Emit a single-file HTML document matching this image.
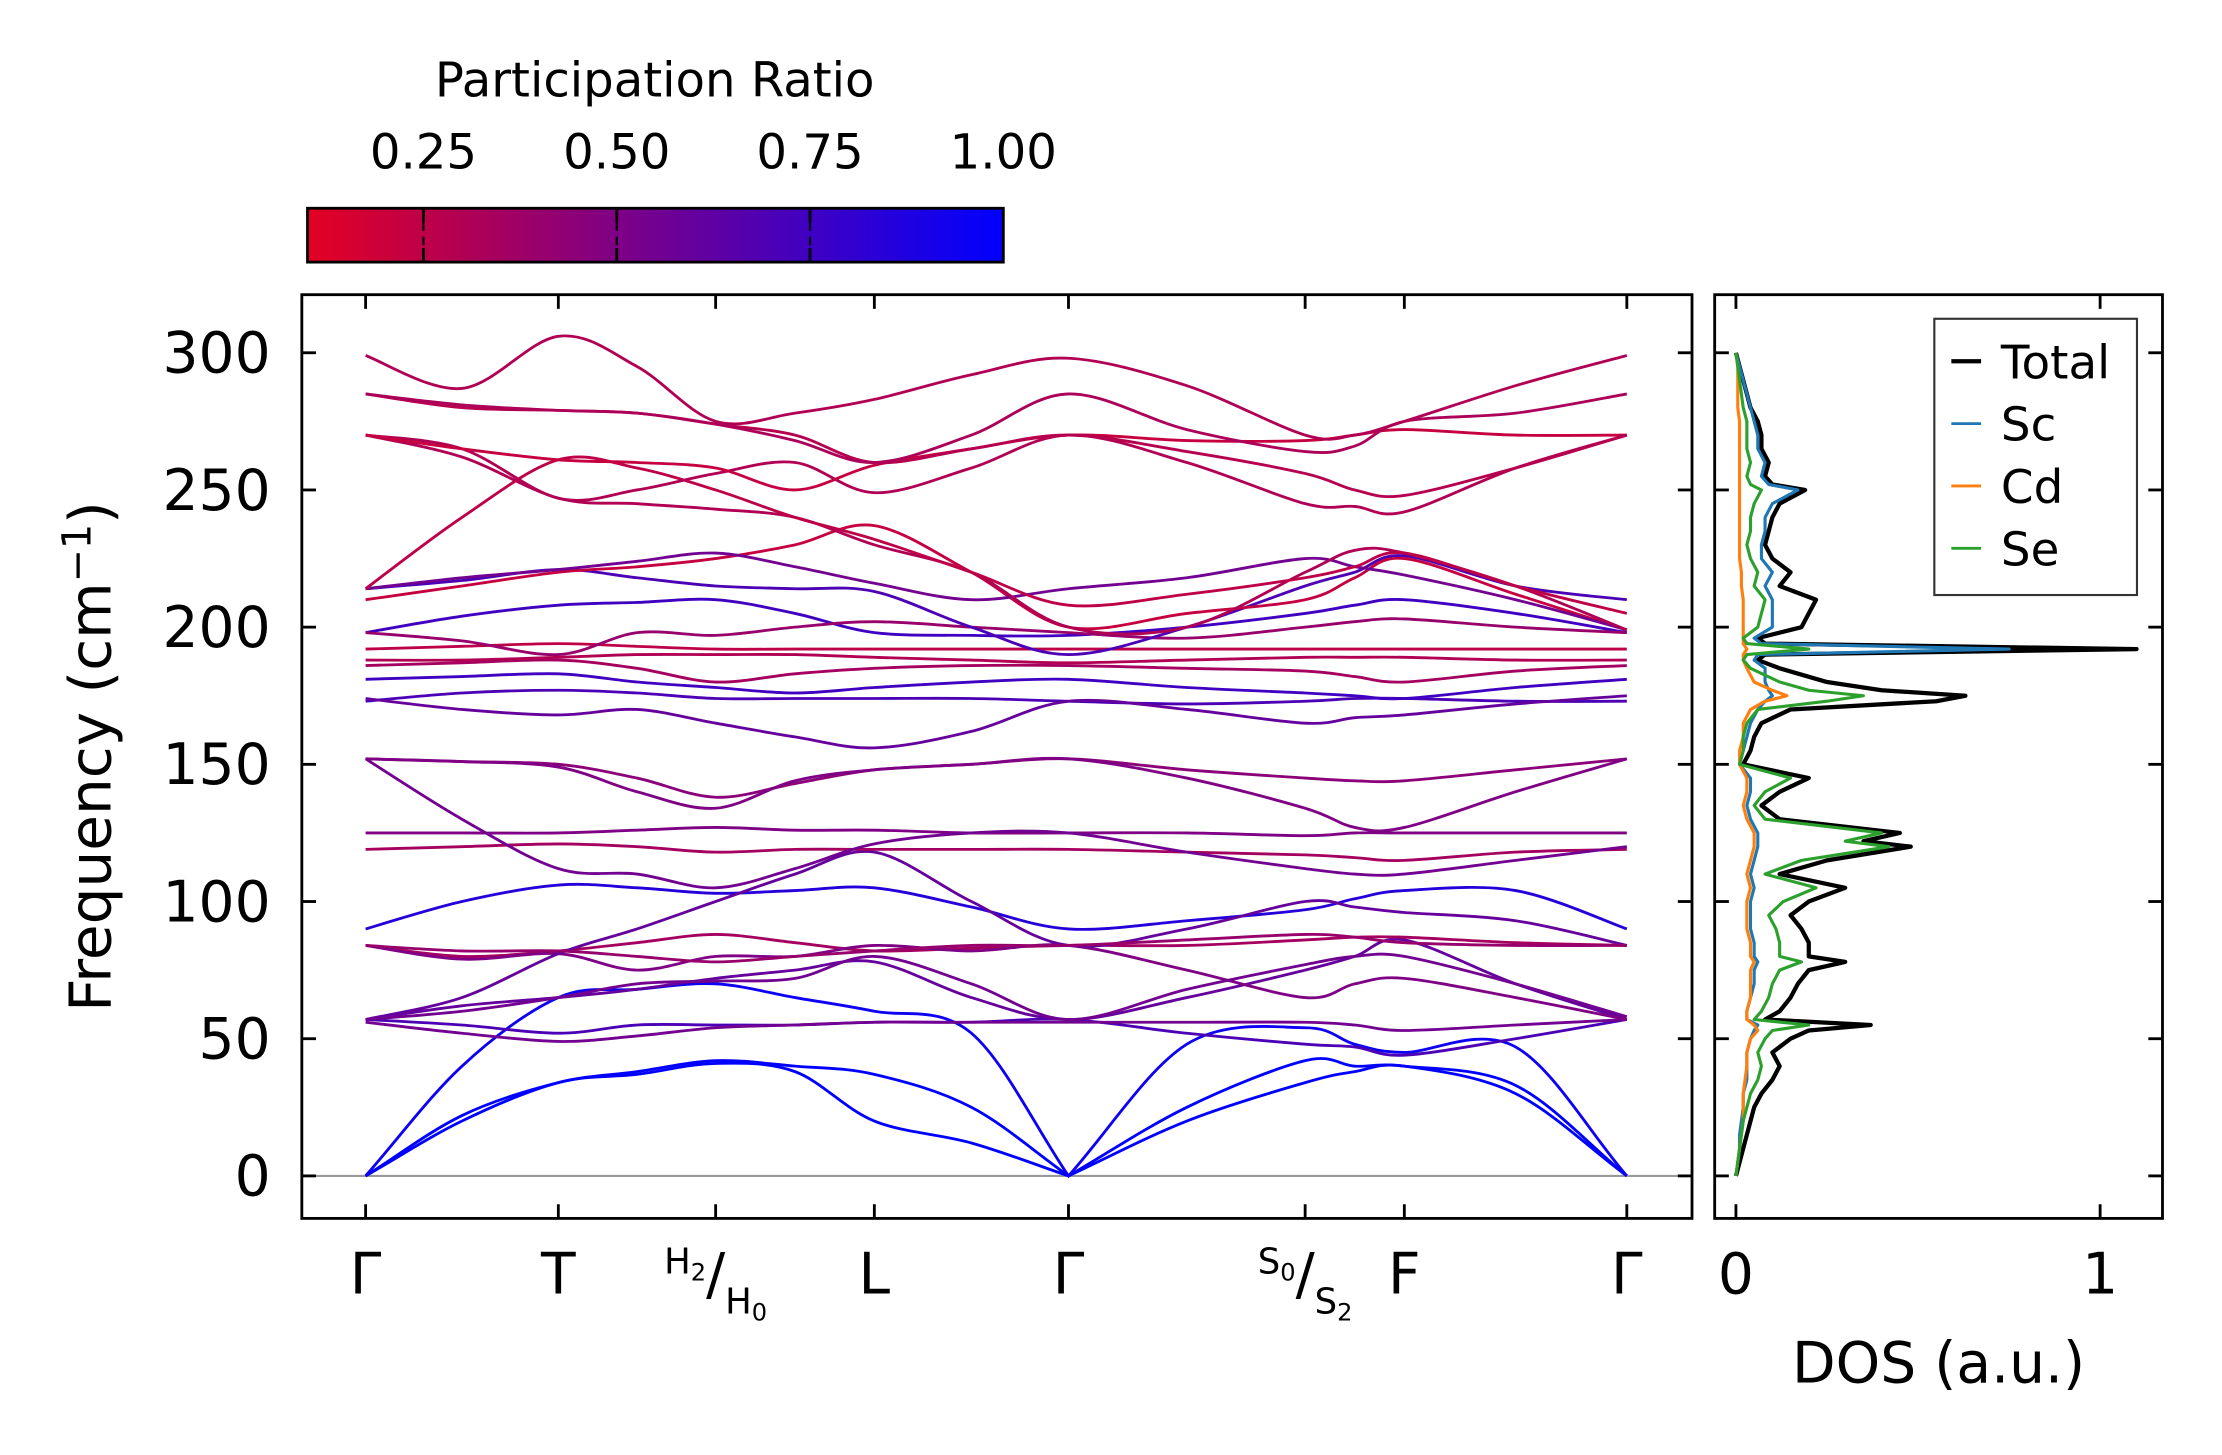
<!DOCTYPE html>
<html><head><meta charset="utf-8"><style>
html,body{margin:0;padding:0;background:#fff;}
svg{display:block;font-family:"DejaVu Sans","Liberation Sans",sans-serif;}
</style></head><body>
<svg id="chart" width="2222" height="1455" viewBox="0 0 1568 1027" preserveAspectRatio="none" xmlns="http://www.w3.org/2000/svg">
<defs>
<linearGradient id="cbgrad" x1="0" x2="1" y1="0" y2="0">
<stop offset="0" stop-color="rgb(228,0,35)"/><stop offset="1" stop-color="rgb(0,0,255)"/>
</linearGradient>
<clipPath id="mainclip"><rect x="213" y="208" width="981" height="652"/></clipPath>
<clipPath id="dosclip"><rect x="1210" y="208" width="316" height="652"/></clipPath>
</defs>
<g id="colorbar">
<text x="462" y="68" font-size="34" text-anchor="middle">Participation Ratio</text>
<rect x="217" y="147" width="491" height="38" fill="url(#cbgrad)" stroke="#000" stroke-width="2"/>
</g>
<g id="main">
<line x1="213" x2="1194" y1="830" y2="830" stroke="#999" stroke-width="1.5"/>
<g id="bands" clip-path="url(#mainclip)"></g>
<rect x="213" y="208" width="981" height="652" fill="none" stroke="#000" stroke-width="2"/>
<g id="mainticks"></g>
<text transform="translate(78,534) rotate(-90)" font-size="41" text-anchor="middle">Frequency (cm<tspan dy="-14" font-size="28">−1</tspan><tspan dy="14">)</tspan></text>
</g>
<g id="dos">
<g id="doslines" clip-path="url(#dosclip)"></g>
<rect x="1210" y="208" width="316" height="652" fill="none" stroke="#000" stroke-width="2"/>
<g id="dosticks"></g>
<text x="1368" y="976" font-size="40" text-anchor="middle">DOS (a.u.)</text>
<g>
<rect x="1365" y="225" width="143" height="195" fill="#fff" stroke="#333" stroke-width="1.5"/>
<line x1="1377" x2="1398" y1="255" y2="255" stroke="#000" stroke-width="3"/>
<text x="1412" y="267" font-size="33">Total</text>
<line x1="1377" x2="1398" y1="299" y2="299" stroke="#1f77b4" stroke-width="2"/>
<text x="1412" y="311" font-size="33">Sc</text>
<line x1="1377" x2="1398" y1="343" y2="343" stroke="#ff7f0e" stroke-width="2"/>
<text x="1412" y="355" font-size="33">Cd</text>
<line x1="1377" x2="1398" y1="387" y2="387" stroke="#2ca02c" stroke-width="2"/>
<text x="1412" y="399" font-size="33">Se</text>
</g>
</g>
</svg>
<script>
// ---- data ----
const kLabels = ["Γ","T","H2/H0","L","Γ","S0/S2","F","Γ"];
const kDist = [0, 1.36, 2.47, 3.59, 4.96, 6.63, 7.33, 8.90];
const yTicks = [0, 50, 100, 150, 200, 250, 300];
const cbTicks = [0.25, 0.50, 0.75, 1.00];
const cbTickLabels = ["0.25","0.50","0.75","1.00"];
const bandA1 = [0,20,34,37,41,38,20,12,0,20,34,38,40,30,0];
const bandA2 = [0,22,34,38,42,40,37,25,0,25,42,40,40,33,0];
const bandA3 = [0,40,65,68,70,65,60,52,0,48,54,48,45,47,0];
const bandB1 = [57,55,52,55,55,55,56,56,57,52,48,47,44,50,57];
const bandB2 = [56,52,49,51,54,55,56,56,56,56,56,55,53,55,57];
const bandB3 = [57,62,65,68,72,75,78,65,57,65,75,80,86,70,57];
const bandB4 = [84,80,82,85,88,85,82,83,84,84,86,87,87,85,84];
const bandB5 = [84,79,81,75,80,80,84,82,84,75,65,70,72,65,57];
const bandB6 = [90,100,106,105,103,104,105,98,90,93,97,101,104,104,90];
const bandB7 = [57,65,81,90,100,110,118,100,84,90,100,98,96,93,84];
const bandB8 = [119,120,121,120,118,119,119,119,119,118,117,116,115,118,119];
const bandB9 = [125,125,125,126,127,126,126,125,125,125,124,125,125,125,125];
const bandB10 = [152,130,112,110,105,112,121,125,125,118,112,110,110,115,120];
const bandB11 = [152,151,150,145,138,143,148,150,152,148,145,144,144,148,152];
const bandB12 = [152,151,149,140,134,144,148,150,152,145,134,127,127,140,152];
const bandB13 = [173,176,177,176,174,174,174,174,173,172,173,174,174,173,173];
const bandB14 = [174,170,168,170,165,160,156,162,173,170,165,167,168,172,175];
const bandB15 = [181,182,183,180,178,176,178,180,181,178,176,175,174,178,181];
const bandB16 = [186,187,188,185,180,183,185,186,186,185,184,182,180,184,186];
const bandB17 = [188,188,189,190,190,190,189,188,187,188,189,189,189,188,188];
const bandB18 = [192,193,194,193,192,192,192,192,192,192,192,192,192,192,192];
const bandB19 = [198,204,208,209,210,205,198,197,197,200,205,208,210,205,198];
const bandB20 = [198,195,190,198,197,200,202,200,198,196,200,202,203,200,198];
const bandB21 = [214,217,221,218,215,214,213,200,190,200,215,220,226,215,210];
const bandB22 = [210,215,220,222,225,230,237,220,200,205,210,218,225,212,199];
const bandB23 = [214,218,221,224,227,222,216,210,214,218,225,222,219,210,199];
const bandB24 = [270,262,247,245,243,240,230,220,200,200,220,228,227,215,199];
const bandB25 = [214,240,261,258,250,240,232,220,208,212,218,222,227,215,205];
const bandB26 = [270,265,247,250,256,260,249,258,270,260,245,244,242,258,270];
const bandB27 = [270,265,261,260,258,250,259,265,270,268,268,270,272,270,270];
const bandB28 = [285,280,279,278,274,270,260,265,270,264,256,250,248,258,270];
const bandB29 = [285,281,279,278,274,268,260,270,285,272,264,266,275,278,285];
const bandB30 = [299,287,306,295,275,278,283,292,298,288,270,270,275,288,299];
const bandB31 = [84,82,82,80,78,80,82,84,84,86,88,87,85,84,84];
const bandB32 = [57,60,65,70,71,72,80,70,57,68,77,80,80,70,58];
const bands = [bandA1,bandA2,bandA3,bandB1,bandB2,bandB3,bandB4,bandB5,bandB6,bandB7,bandB8,bandB9,bandB10,bandB11,bandB12,bandB13,bandB14,bandB15,bandB16,bandB17,bandB18,bandB19,bandB20,bandB21,bandB22,bandB23,bandB24,bandB25,bandB26,bandB27,bandB28,bandB29,bandB30,bandB31,bandB32];
const bandPR = [1,1,0.95,0.7,0.55,0.6,0.35,0.5,0.85,0.6,0.35,0.5,0.55,0.45,0.5,0.7,0.6,0.75,0.35,0.3,0.25,0.75,0.4,0.7,0.22,0.55,0.3,0.25,0.3,0.22,0.28,0.32,0.3,0.4,0.55];
const dosFreq = [0,5,10,15,20,25,30,35,40,45,50,53,55,57,60,65,70,75,78,80,85,90,95,100,105,110,115,120,122,125,130,135,140,145,150,155,160,165,170,173,175,177,180,185,188,190,192,194,196,200,205,210,215,220,225,230,235,240,245,250,252,255,260,265,270,275,280,285,290,295,300];
const dosTotal = [0,0.01,0.02,0.03,0.04,0.05,0.07,0.1,0.12,0.1,0.15,0.2,0.37,0.08,0.12,0.15,0.17,0.2,0.3,0.2,0.2,0.18,0.15,0.2,0.3,0.12,0.25,0.48,0.35,0.45,0.12,0.07,0.12,0.2,0.02,0.04,0.05,0.07,0.15,0.55,0.63,0.4,0.25,0.12,0.06,0.08,1.1,0.08,0.06,0.18,0.2,0.22,0.12,0.15,0.1,0.08,0.09,0.1,0.12,0.19,0.1,0.08,0.09,0.07,0.07,0.06,0.04,0.03,0.02,0.01,0];
const dosSc = [0,0.005,0.01,0.01,0.015,0.02,0.02,0.03,0.03,0.03,0.04,0.05,0.06,0.03,0.03,0.04,0.05,0.05,0.06,0.05,0.05,0.04,0.04,0.04,0.05,0.04,0.05,0.06,0.06,0.06,0.04,0.03,0.04,0.04,0.01,0.02,0.03,0.04,0.06,0.08,0.1,0.09,0.08,0.08,0.05,0.06,0.75,0.07,0.05,0.1,0.1,0.1,0.08,0.1,0.07,0.07,0.08,0.08,0.1,0.17,0.09,0.07,0.08,0.06,0.06,0.05,0.04,0.03,0.02,0.01,0];
const dosCd = [0,0.005,0.01,0.015,0.02,0.02,0.02,0.025,0.03,0.03,0.04,0.06,0.05,0.03,0.03,0.04,0.04,0.04,0.05,0.04,0.04,0.03,0.03,0.03,0.04,0.03,0.04,0.05,0.05,0.05,0.03,0.02,0.03,0.03,0.01,0.01,0.02,0.02,0.04,0.08,0.14,0.1,0.05,0.03,0.02,0.02,0.03,0.02,0.02,0.02,0.02,0.02,0.015,0.015,0.01,0.01,0.01,0.01,0.01,0.01,0.01,0.01,0.01,0.01,0.01,0.01,0.005,0.005,0.005,0.005,0];
const dosSe = [0,0.005,0.01,0.015,0.02,0.03,0.04,0.06,0.07,0.06,0.08,0.1,0.2,0.05,0.07,0.09,0.1,0.12,0.18,0.12,0.12,0.11,0.09,0.13,0.22,0.08,0.18,0.42,0.3,0.4,0.08,0.05,0.08,0.15,0.01,0.02,0.02,0.03,0.06,0.25,0.35,0.2,0.12,0.04,0.02,0.03,0.2,0.03,0.02,0.06,0.07,0.08,0.05,0.06,0.04,0.03,0.04,0.04,0.05,0.07,0.04,0.03,0.04,0.03,0.03,0.03,0.02,0.015,0.01,0.005,0];
const dosTicks = [0, 1];
// ---- scales ----
const NS = "http://www.w3.org/2000/svg";
const yScale = v => 830 - (v/300)*(830-249);
const kScale = k => 258 + (k/kDist[kDist.length-1])*(1148-258);
const dosX = d => 1225 + d*(1482-1225);
const cbX = v => 217 + (v-0.1)/0.9*491;
function prColor(p){const t=Math.max(0,Math.min(1,(p-0.1)/0.9));return `rgb(${Math.round(228*(1-t))},0,${Math.round(35+220*t)})`;}
function mk(tag, attrs, parent){const e=document.createElementNS(NS,tag);for(const k in attrs)e.setAttribute(k,attrs[k]);parent.appendChild(e);return e;}
const sampleK = [];
for(let i=0;i<kDist.length;i++){sampleK.push(kDist[i]);if(i<kDist.length-1)sampleK.push((kDist[i]+kDist[i+1])/2);}
function smoothPath(pts, vals){
  let d=`M${pts[0][0]},${pts[0][1]}`;
  for(let i=0;i<pts.length-1;i++){
    const p0=pts[Math.max(0,i-1)],p1=pts[i],p2=pts[i+1],p3=pts[Math.min(pts.length-1,i+2)];
    let c1=[p1[0]+(p2[0]-p0[0])/6,p1[1]+(p2[1]-p0[1])/6];
    let c2=[p2[0]-(p3[0]-p1[0])/6,p2[1]-(p3[1]-p1[1])/6];
    if(vals[i]===0) c1=[p1[0]+(p2[0]-p1[0])/3,p1[1]+(p2[1]-p1[1])/3];
    if(vals[i+1]===0) c2=[p2[0]-(p2[0]-p1[0])/3,p2[1]-(p2[1]-p1[1])/3];
    d+=` C${c1[0]},${c1[1]} ${c2[0]},${c2[1]} ${p2[0]},${p2[1]}`;
  }
  return d;
}
const bandG=document.getElementById('bands');
bands.forEach((b,i)=>{
  const pts=b.map((v,j)=>[kScale(sampleK[j]),yScale(v)]);
  const p=mk('path',{d:smoothPath(pts,b),fill:'none',stroke:prColor(bandPR[i]),'stroke-width':2},bandG);
  
  
});
const mt=document.getElementById('mainticks');
const dt=document.getElementById('dosticks');
yTicks.forEach(v=>{
  const y=yScale(v);
  mk('line',{x1:213,x2:223,y1:y,y2:y,stroke:'#000','stroke-width':2},mt);
  mk('line',{x1:1184,x2:1194,y1:y,y2:y,stroke:'#000','stroke-width':2},mt);
  const t=mk('text',{x:191,y:y+14,'font-size':40,'text-anchor':'end'},mt);t.textContent=v;
  
  
  mk('line',{x1:1210,x2:1220,y1:y,y2:y,stroke:'#000','stroke-width':2},dt);
  mk('line',{x1:1516,x2:1526,y1:y,y2:y,stroke:'#000','stroke-width':2},dt);
});
kDist.forEach((k,i)=>{
  const x=kScale(k);
  mk('line',{x1:x,x2:x,y1:850,y2:860,stroke:'#000','stroke-width':2},mt);
  mk('line',{x1:x,x2:x,y1:208,y2:218,stroke:'#000','stroke-width':2},mt);
  const lab=kLabels[i];
  let t;
  if(lab.includes('/')){
    const [a,b]=lab.split('/');
    t=mk('text',{x:x,y:913,'font-size':40,'text-anchor':'middle'},mt);
    const s1=mk('tspan',{dy:-14,'font-size':25},t);s1.textContent=a[0];
    const s1b=mk('tspan',{dy:5,'font-size':17},t);s1b.textContent=a.slice(1);
    const s2=mk('tspan',{dy:9},t);s2.textContent='/';
    const s3=mk('tspan',{dy:14,'font-size':25},t);s3.textContent=b[0];
    const s3b=mk('tspan',{dy:5,'font-size':17},t);s3b.textContent=b.slice(1);
  } else {
    t=mk('text',{x:x,y:913,'font-size':40,'text-anchor':'middle'},mt);t.textContent=lab;
  }
  
  
});
const cb=document.getElementById('colorbar');
cbTicks.forEach((v,i)=>{
  const x=cbX(v);
  if(v<1){mk('line',{x1:x,x2:x,y1:147,y2:157,stroke:'#000','stroke-width':2},cb);mk('line',{x1:x,x2:x,y1:175,y2:185,stroke:'#000','stroke-width':2},cb);mk('line',{x1:x,x2:x,y1:157,y2:175,stroke:'#000','stroke-width':1.5,'stroke-dasharray':'6,4'},cb);}
  const t=mk('text',{x:x,y:119,'font-size':34,'text-anchor':'middle'},cb);t.textContent=cbTickLabels[i];
  
  
});
const dl=document.getElementById('doslines');
function dosPath(arr){return arr.map((d,i)=>(i?'L':'M')+dosX(d)+','+yScale(dosFreq[i])).join(' ');}
const dosSeries=[[dosTotal,'#000',3,'dos-total-line'],[dosSc,'#1f77b4',2.2,'dos-sc-line'],[dosCd,'#ff7f0e',2.2,'dos-cd-line'],[dosSe,'#2ca02c',2.2,'dos-se-line']];
dosSeries.forEach(s=>{
  const p=mk('path',{d:dosPath(s[0]),fill:'none',stroke:s[1],'stroke-width':s[2],'stroke-linejoin':'round'},dl);
  
  
});
dosTicks.forEach(v=>{
  const x=dosX(v);
  mk('line',{x1:x,x2:x,y1:850,y2:860,stroke:'#000','stroke-width':2},dt);
  mk('line',{x1:x,x2:x,y1:208,y2:218,stroke:'#000','stroke-width':2},dt);
  const t=mk('text',{x:x,y:913,'font-size':40,'text-anchor':'middle'},dt);t.textContent=v;
  
  
});
</script>
</body></html>
